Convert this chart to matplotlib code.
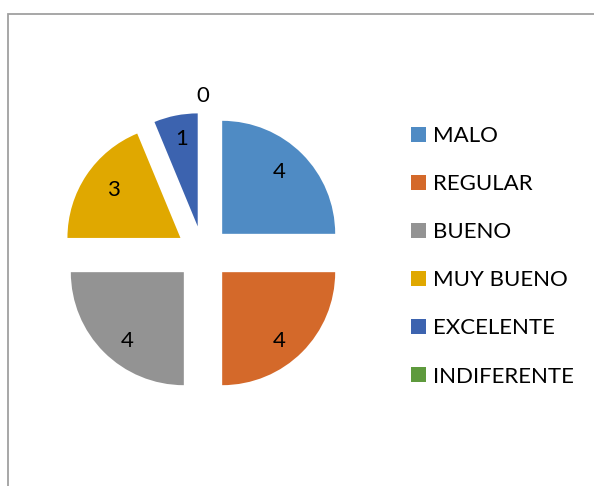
import numpy as np
import matplotlib
matplotlib.use("Agg")
import matplotlib.pyplot as plt
from matplotlib.patches import Rectangle, Patch

categories = ["MALO", "REGULAR", "BUENO", "MUY BUENO", "EXCELENTE", "INDIFERENTE"]
values = [4, 4, 4, 3, 1, 0]
colors = ["#4F8BC4", "#D4692A", "#939393", "#E0A800", "#3C63AF", "#5E9A3D"]

plt.rcParams['font.family'] = ['Lato', 'DejaVu Sans']

W, H = 594, 486
fig = plt.figure(figsize=(W / 100, H / 100), dpi=100)

# outer border (chart area, cut off at right/bottom)
fig.patches.append(Rectangle((8 / W, -0.1), 2.0, (H - 14) / H + 0.1,
                             transform=fig.transFigure, fill=False,
                             edgecolor="#A0A0A0", linewidth=1.3))

R = 113.0
cx, cy = 203, H - 253
half = 180
ax = fig.add_axes([(cx - half) / W, (cy - half) / H, 2 * half / W, 2 * half / H])
lim = half / R

explode = [0.24] * len(values)
total = sum(values)
wedges, texts, autotexts = ax.pie(
    values, colors=colors, startangle=90, counterclock=False,
    explode=explode, radius=1.0, pctdistance=0.76,
    autopct=lambda p: f"{int(round(p * total / 100))}",
    wedgeprops=dict(linewidth=0), textprops=dict(fontsize=16, color="black"),
    frame=False)
ax.set_xlim(-lim, lim)
ax.set_ylim(-lim, lim)
ax.set_aspect("auto")
ax.axis("off")

for v, t, w in zip(values, autotexts, wedges):
    x, y = t.get_position()
    if v == 0:
        ang = np.deg2rad((w.theta1 + w.theta2) / 2)
        d = 1.41
        t.set_position((d * np.cos(ang), d * np.sin(ang)))
    else:
        t.set_position((x * 0.95, y * 1.062 - 1.5 / R))
    t.set_va("center_baseline")

handles = [Patch(facecolor=c, edgecolor="none") for c in colors]
fig.legend(handles, categories, loc="upper left",
           bbox_to_anchor=(411 / W, (H - 126) / H), frameon=False,
           fontsize=16, handlelength=0.68, handleheight=0.68,
           handletextpad=0.33, labelspacing=1.265, borderpad=0, borderaxespad=0)

fig.savefig("out.png", dpi=100)
